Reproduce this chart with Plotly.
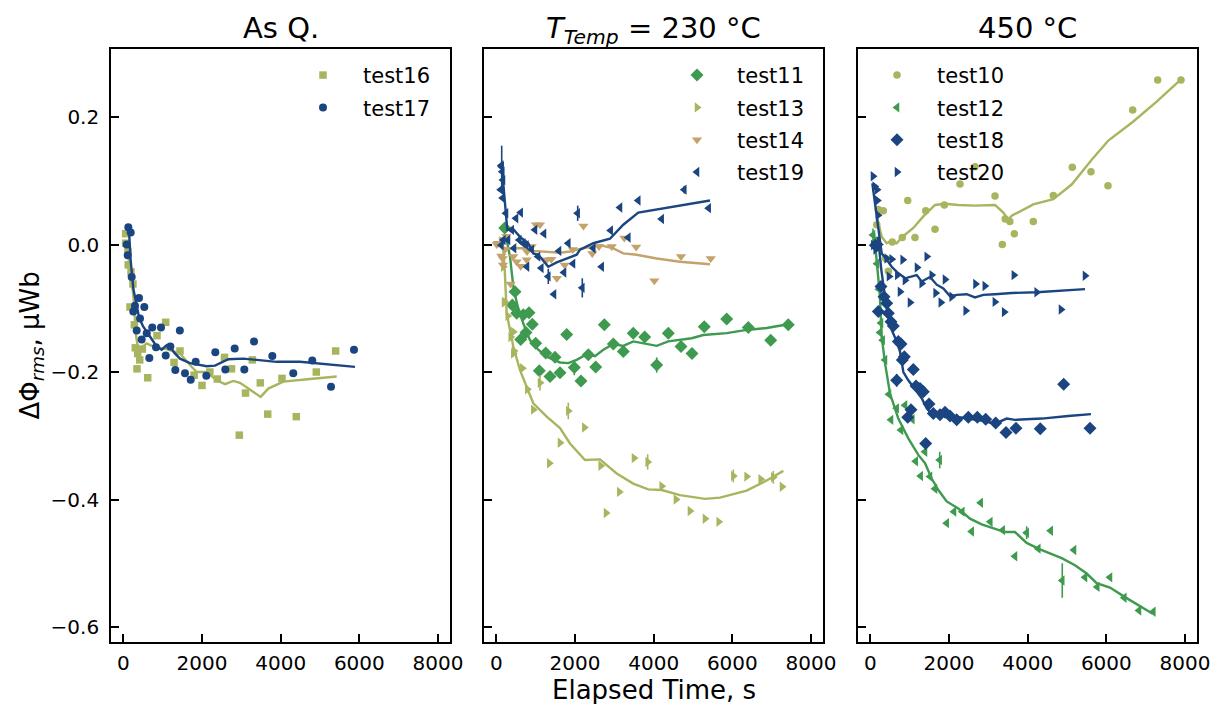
import plotly.graph_objects as go

# ---------------- Panel 1: As Q. ----------------
t16_x = [60, 60, 119, 125, 170, 196, 245, 280, 305, 348, 366, 417, 483, 620, 857, 1078, 1289, 1441, 1800, 2000,
         2200, 2390, 2573, 2750, 2949, 3106, 3280, 3483, 3671, 4034, 4398, 4906, 5398]
t16_y = [0.017, 0.002, -0.011, -0.032, -0.098, -0.043, -0.062, -0.126, -0.162, -0.195, -0.171, -0.181, -0.164,
         -0.209, -0.143, -0.122, -0.185, -0.167, -0.205, -0.221, -0.200, -0.211, -0.177, -0.195, -0.299, -0.233,
         -0.181, -0.217, -0.266, -0.210, -0.270, -0.200, -0.167]
t16_fit_x = [93, 150, 213, 272, 315, 366, 424, 493, 595, 763, 1103, 1441, 1695, 1865, 2120, 2374, 2586, 2796,
             2966, 3220, 3492, 3686, 4067, 4746, 5424]
t16_fit_y = [0.005, -0.030, -0.056, -0.092, -0.139, -0.160, -0.168, -0.160, -0.155, -0.160, -0.164, -0.171,
             -0.189, -0.200, -0.200, -0.213, -0.219, -0.214, -0.217, -0.228, -0.239, -0.226, -0.215, -0.211, -0.207]

t17_x = [86, 112, 127, 188, 213, 254, 297, 340, 399, 424, 467, 534, 595, 661, 735, 831, 958, 1078, 1195, 1322,
         1437, 1568, 1713, 1840, 2110, 2339, 2593, 2832, 3076, 3323, 3788, 4321, 4804, 5280, 5864]
t17_y = [0.000, -0.017, 0.027, 0.019, -0.051, -0.105, -0.096, -0.135, -0.084, -0.116, -0.149, -0.098, -0.139,
         -0.178, -0.130, -0.161, -0.130, -0.174, -0.160, -0.197, -0.135, -0.202, -0.212, -0.184, -0.206, -0.169,
         -0.196, -0.163, -0.196, -0.152, -0.175, -0.202, -0.182, -0.223, -0.165]
t17_fit_x = [140, 180, 254, 330, 407, 500, 595, 700, 849, 976, 1103, 1187, 1300, 1441, 1695, 2120, 2331, 2669,
             3050, 3391, 3899, 4492, 5338, 5890]
t17_fit_y = [0.028, -0.020, -0.069, -0.095, -0.116, -0.128, -0.137, -0.148, -0.160, -0.165, -0.158, -0.160,
             -0.170, -0.179, -0.186, -0.191, -0.190, -0.180, -0.179, -0.181, -0.184, -0.184, -0.189, -0.192]

# ---------------- Panel 2: T_Temp = 230 °C ----------------
t11_x = [214, 407, 475, 518, 620, 686, 755, 831, 915, 1001, 1093, 1256, 1365, 1492, 1619, 1789, 1983, 2153,
         2339, 2527, 2745, 2975, 3228, 3482, 3772, 4077, 4372, 4695, 4975, 5287, 5857, 6406, 6975, 7422]
t11_y = [0.026, -0.095, -0.074, -0.108, -0.149, -0.110, -0.138, -0.107, -0.125, -0.155, -0.198, -0.170, -0.207,
         -0.177, -0.201, -0.141, -0.193, -0.214, -0.173, -0.192, -0.126, -0.156, -0.168, -0.139, -0.145, -0.189,
         -0.139, -0.160, -0.171, -0.129, -0.117, -0.130, -0.150, -0.126]
t11_err = [0.003, 0.003, 0.003, 0.003, 0.003, 0.003, 0.003, 0.003, 0.003, 0.003, 0.003, 0.003, 0.003, 0.003,
           0.003, 0.003, 0.012, 0.003, 0.003, 0.003, 0.003, 0.003, 0.003, 0.003, 0.003, 0.012, 0.003, 0.003,
           0.003, 0.003, 0.003, 0.003, 0.003, 0.003]
t11_fit_x = [263, 348, 432, 534, 686, 856, 1068, 1281, 1619, 1830, 2043, 2297, 2508, 2720, 2975, 3228, 3482,
             3736, 4077, 4372, 4966, 5262, 5857, 6364, 6873, 7422]
t11_fit_y = [0.007, -0.019, -0.066, -0.095, -0.124, -0.150, -0.165, -0.176, -0.185, -0.186, -0.181, -0.172,
             -0.175, -0.165, -0.156, -0.159, -0.152, -0.155, -0.159, -0.152, -0.147, -0.142, -0.139, -0.134,
             -0.131, -0.125]

t13_x = [137, 178, 195, 214, 290, 366, 432, 432, 450, 661, 788, 940, 1111, 1347, 1619, 1830, 2237, 2654, 2789,
         3127, 3500, 3848, 4204, 4567, 4923, 5305, 5653, 6025, 6364, 6721, 7041, 7262]
t13_y = [0.005, -0.035, -0.091, -0.090, -0.112, -0.145, -0.137, -0.171, -0.167, -0.194, -0.227, -0.259, -0.217,
         -0.343, -0.311, -0.261, -0.287, -0.347, -0.421, -0.388, -0.335, -0.341, -0.379, -0.400, -0.418, -0.430,
         -0.435, -0.363, -0.364, -0.368, -0.365, -0.380]
t13_err = [0.003, 0.003, 0.003, 0.003, 0.003, 0.003, 0.003, 0.003, 0.003, 0.003, 0.003, 0.003, 0.012, 0.003,
           0.003, 0.013, 0.003, 0.003, 0.003, 0.003, 0.003, 0.012, 0.003, 0.003, 0.003, 0.003, 0.003, 0.010,
           0.003, 0.003, 0.010, 0.003]
t13_fit_x = [163, 214, 264, 432, 602, 772, 940, 1281, 1619, 1873, 2254, 2636, 3060, 3482, 3863, 4204, 4669,
             5305, 5686, 6364, 6873, 7296]
t13_fit_y = [0.002, -0.040, -0.108, -0.160, -0.197, -0.223, -0.249, -0.270, -0.288, -0.312, -0.338, -0.337,
             -0.359, -0.375, -0.384, -0.385, -0.393, -0.399, -0.397, -0.386, -0.370, -0.355]

t14_x = [10, 43, 127, 163, 170, 178, 220, 254, 364, 432, 518, 620, 772, 780, 900, 1009, 1111, 1281, 1398, 1540,
         1738, 1945, 2216, 2440, 2610, 2933, 3254, 3555, 4017, 4695, 5450]
t14_y = [0.000, 0.002, -0.018, -0.022, -0.032, 0.007, -0.008, 0.013, -0.062, -0.019, -0.027, -0.034, -0.024,
         -0.011, -0.003, 0.031, 0.031, -0.024, -0.023, -0.053, -0.032, -0.008, 0.029, -0.014, -0.003, -0.003,
         0.010, -0.004, -0.057, -0.019, -0.022]
t14_fit_x = [10, 263, 432, 686, 940, 1281, 1619, 1873, 2128, 2466, 2636, 2975, 3228, 3569, 4077, 4669, 5432]
t14_fit_y = [0.000, -0.007, -0.006, -0.006, -0.010, -0.011, -0.013, -0.011, -0.007, -0.003, -0.001, -0.006,
             -0.014, -0.016, -0.022, -0.027, -0.031]

t19_x = [127, 137, 153, 112, 170, 163, 178, 127, 247, 297, 391, 450, 501, 585, 620, 686, 763, 780, 900, 984,
         1060, 1144, 1212, 1322, 1467, 1594, 1721, 1830, 1950, 2069, 2186, 2466, 2679, 2908, 3144, 3355, 3609,
         4204, 4779, 5399]
t19_y = [0.124, 0.122, 0.114, 0.086, 0.101, 0.073, 0.007, -0.001, 0.049, 0.007, 0.023, -0.006, 0.041, 0.007,
         0.050, 0.002, -0.001, -0.035, -0.008, 0.023, -0.019, -0.037, 0.017, -0.050, -0.078, -0.010, -0.044,
         0.002, -0.030, 0.049, -0.068, -0.006, -0.035, 0.022, 0.058, 0.011, 0.069, 0.040, 0.086, 0.057]
t19_err = [0.003, 0.033, 0.003, 0.003, 0.003, 0.003, 0.003, 0.003, 0.003, 0.003, 0.003, 0.003, 0.003, 0.003,
           0.003, 0.003, 0.003, 0.003, 0.003, 0.003, 0.003, 0.003, 0.003, 0.012, 0.003, 0.003, 0.003, 0.003,
           0.003, 0.012, 0.015, 0.003, 0.003, 0.003, 0.003, 0.003, 0.003, 0.003, 0.006, 0.003]
t19_fit_x = [150, 220, 279, 432, 602, 814, 940, 1068, 1322, 1535, 1789, 2043, 2128, 2466, 2890, 3228, 3609,
             3990, 4669, 5432]
t19_fit_y = [0.115, 0.060, 0.023, 0.024, 0.012, 0.002, -0.014, -0.016, -0.035, -0.028, -0.022, -0.016, -0.008,
             0.002, 0.009, 0.031, 0.050, 0.054, 0.061, 0.069]

# ---------------- Panel 3: 450 °C ----------------
t10_x = [163, 203, 330, 391, 458, 559, 813, 951, 1136, 1408, 1645, 1881, 2280, 2661, 3170, 3356, 3429, 3547,
         3662, 4143, 4652, 5135, 5610, 6042, 6670, 7306, 7898]
t10_y = [0.031, 0.055, 0.053, -0.022, -0.042, 0.004, 0.011, 0.069, 0.011, 0.053, 0.024, 0.062, 0.095, 0.122,
         0.076, 0.000, 0.040, 0.036, 0.017, 0.036, 0.077, 0.121, 0.114, 0.092, 0.211, 0.258, 0.258]
t10_fit_x = [163, 290, 417, 544, 671, 798, 1093, 1347, 1645, 1899, 2237, 2661, 3170, 3381, 3508, 3594, 4143,
             4652, 5119, 5628, 6051, 6686, 7280, 7898]
t10_fit_y = [0.045, 0.012, 0.002, 0.006, 0.002, 0.011, 0.026, 0.044, 0.062, 0.064, 0.062, 0.061, 0.062, 0.050,
             0.039, 0.045, 0.063, 0.071, 0.094, 0.133, 0.163, 0.193, 0.224, 0.259]

t12_x = [68, 119, 170, 220, 247, 272, 315, 374, 475, 526, 671, 780, 882, 1068, 1154, 1281, 1391, 1517, 1645,
         1764, 1942, 2128, 2339, 2577, 2806, 3050, 3365, 3678, 3975, 4271, 4585, 4880, 5178, 5458, 5770, 6093,
         6457, 6831, 7194]
t12_y = [0.015, 0.005, -0.030, -0.070, -0.138, -0.123, -0.150, -0.181, -0.235, -0.275, -0.257, -0.291, -0.252,
         -0.274, -0.340, -0.363, -0.325, -0.364, -0.383, -0.338, -0.437, -0.419, -0.419, -0.450, -0.405, -0.435,
         -0.448, -0.489, -0.452, -0.477, -0.449, -0.527, -0.479, -0.522, -0.537, -0.522, -0.554, -0.574, -0.576]
t12_err = [0.010, 0.003, 0.003, 0.003, 0.003, 0.003, 0.003, 0.003, 0.003, 0.003, 0.003, 0.003, 0.003, 0.003,
           0.003, 0.003, 0.003, 0.003, 0.003, 0.013, 0.003, 0.003, 0.003, 0.003, 0.003, 0.003, 0.003, 0.003,
           0.010, 0.003, 0.003, 0.027, 0.003, 0.003, 0.003, 0.003, 0.003, 0.003, 0.003]
t12_fit_x = [94, 239, 290, 374, 501, 712, 966, 1220, 1391, 1561, 1729, 1942, 2237, 2534, 2830, 3170, 3424,
             3678, 3975, 4314, 4865, 5203, 5500, 5754, 6093, 6474, 6813, 7178]
t12_fit_y = [0.018, -0.076, -0.145, -0.186, -0.234, -0.273, -0.304, -0.330, -0.343, -0.367, -0.385, -0.403,
             -0.414, -0.430, -0.439, -0.446, -0.451, -0.451, -0.468, -0.478, -0.492, -0.503, -0.516, -0.531,
             -0.538, -0.553, -0.566, -0.579]

t18_x = [127, 203, 272, 348, 417, 458, 526, 585, 671, 712, 780, 813, 864, 951, 1035, 1093, 1162, 1263, 1347,
         1408, 1492, 1602, 1771, 1899, 2026, 2195, 2491, 2720, 2933, 3187, 3449, 3703, 4321, 4916, 5585]
t18_y = [-0.001, -0.105, -0.066, -0.082, -0.092, -0.108, -0.121, -0.128, -0.213, -0.152, -0.156, -0.181, -0.176,
         -0.271, -0.259, -0.196, -0.222, -0.226, -0.231, -0.312, -0.250, -0.265, -0.267, -0.263, -0.269, -0.275,
         -0.271, -0.271, -0.274, -0.280, -0.295, -0.288, -0.289, -0.219, -0.288]
t18_err = [0.003, 0.003, 0.003, 0.003, 0.003, 0.003, 0.003, 0.003, 0.010, 0.003, 0.003, 0.003, 0.003, 0.003,
           0.003, 0.003, 0.003, 0.003, 0.003, 0.003, 0.003, 0.003, 0.003, 0.003, 0.003, 0.003, 0.003, 0.003,
           0.003, 0.003, 0.003, 0.003, 0.003, 0.003, 0.003]
t18_fit_x = [196, 280, 407, 493, 544, 671, 755, 840, 966, 1136, 1306, 1434, 1561, 1815, 2069, 2491, 2830, 3170,
             3467, 3678, 4357, 5033, 5610]
t18_fit_y = [0.012, -0.040, -0.097, -0.116, -0.134, -0.152, -0.168, -0.200, -0.213, -0.227, -0.241, -0.257,
             -0.266, -0.267, -0.269, -0.273, -0.276, -0.281, -0.273, -0.275, -0.273, -0.269, -0.266]

t20_x = [68, 112, 170, 178, 196, 76, 137, 230, 417, 475, 544, 686, 755, 823, 882, 1009, 1187, 1306, 1434, 1561,
         1661, 1793, 1899, 2069, 2424, 2674, 2911, 3166, 3403, 3649, 4230, 4848, 5458]
t20_y = [0.107, 0.091, 0.086, 0.069, 0.046, -0.001, -0.008, 0.000, -0.022, -0.050, -0.023, -0.048, -0.074,
         -0.024, -0.056, -0.091, -0.036, -0.061, -0.019, -0.048, -0.076, -0.091, -0.055, -0.082, -0.104, -0.062,
         -0.065, -0.090, -0.106, -0.048, -0.075, -0.102, -0.049]
t20_fit_x = [51, 247, 290, 417, 544, 671, 882, 1179, 1306, 1518, 1688, 1856, 2026, 2195, 2450, 2661, 2873,
             3170, 3594, 4230, 4865, 5458]
t20_fit_y = [0.096, 0.010, -0.014, -0.024, -0.035, -0.043, -0.053, -0.048, -0.058, -0.051, -0.063, -0.069,
             -0.081, -0.079, -0.078, -0.083, -0.079, -0.078, -0.076, -0.075, -0.072, -0.070]

titles = ["As Q.", "<i>T</i><sub><i>Temp</i></sub> = 230 °C", "450 °C"]
x_ticks = [0, 2000, 4000, 6000, 8000]
y_ticks = [-0.6, -0.4, -0.2, 0.0, 0.2]

OLIVE = "rgb(168,181,94)"
BLUE = "rgb(27,69,128)"
GREEN = "rgb(62,154,78)"
TAN = "rgb(196,162,108)"

fig = go.Figure()


def add_series(x, y, fx, fy, name, color, symbol, size, panel, legend, err=None):
    xa = "x" if panel == 1 else f"x{panel}"
    ya = "y" if panel == 1 else f"y{panel}"
    fig.add_trace(go.Scatter(x=fx, y=fy, mode="lines", line=dict(color=color, width=2.4),
                             xaxis=xa, yaxis=ya, showlegend=False, hoverinfo="skip"))
    eb = None
    if err is not None:
        eb = dict(type="data", array=err, visible=True, color=color, thickness=1.6, width=0)
    fig.add_trace(go.Scatter(x=x, y=y, mode="markers", name=name, error_y=eb,
                             marker=dict(color=color, symbol=symbol, size=size, line=dict(width=0)),
                             xaxis=xa, yaxis=ya, legend=legend, legendgroup=name))


add_series(t16_x, t16_y, t16_fit_x, t16_fit_y, "test16", OLIVE, "square", 7.5, 1, "legend")
add_series(t17_x, t17_y, t17_fit_x, t17_fit_y, "test17", BLUE, "circle", 8, 1, "legend")
add_series(t11_x, t11_y, t11_fit_x, t11_fit_y, "test11", GREEN, "diamond", 10, 2, "legend2", t11_err)
add_series(t13_x, t13_y, t13_fit_x, t13_fit_y, "test13", OLIVE, "triangle-right", 9, 2, "legend2", t13_err)
add_series(t14_x, t14_y, t14_fit_x, t14_fit_y, "test14", TAN, "triangle-down", 9, 2, "legend2")
add_series(t19_x, t19_y, t19_fit_x, t19_fit_y, "test19", BLUE, "triangle-left", 9, 2, "legend2", t19_err)
add_series(t10_x, t10_y, t10_fit_x, t10_fit_y, "test10", OLIVE, "circle", 7.5, 3, "legend3")
add_series(t12_x, t12_y, t12_fit_x, t12_fit_y, "test12", GREEN, "triangle-left", 9, 3, "legend3", t12_err)
add_series(t18_x, t18_y, t18_fit_x, t18_fit_y, "test18", BLUE, "diamond", 10, 3, "legend3", t18_err)
add_series(t20_x, t20_y, t20_fit_x, t20_fit_y, "test20", BLUE, "triangle-right", 9, 3, "legend3")

# screen-pixel layout (page body adds an 8 px offset)
OFF = 8
SL, SR, ST, SB = 111, 1197, 49, 642          # plot area on screen
W, H = 1204, 696
L, T = SL - OFF, ST - OFF
R = W - (SR - OFF)
B = H - (SB - OFF)
pw = SR - SL
panels_px = [(111, 450), (484, 823), (858, 1197)]
doms = [[(a - SL) / pw, (b - SL) / pw] for a, b in panels_px]

axis_common = dict(showline=True, linecolor="black", linewidth=1.6, mirror=True, ticks="inside",
                   ticklen=8, tickwidth=1.6, tickcolor="black", showgrid=False, zeroline=False,
                   automargin=False, tickfont=dict(size=20, color="black"))
xr = [-313, 8305]
yr = [-0.6234, 0.3066]
for i in range(3):
    sfx = "" if i == 0 else str(i + 1)
    fig.layout["xaxis" + sfx] = dict(domain=doms[i], range=xr, tickvals=x_ticks, tickformat="d",
                                     anchor="y" + sfx, ticklabelstandoff=2, **axis_common)
    fig.layout["yaxis" + sfx] = dict(domain=[0, 1], range=yr, tickvals=y_ticks, tickformat=".1f",
                                     anchor="x" + sfx, showticklabels=(i == 0), ticklabelstandoff=6,
                                     **axis_common)

for i, t in enumerate(titles):
    a, b = panels_px[i]
    fig.add_annotation(text=t, x=((a + b) / 2 - SL) / pw, y=1, xref="paper", yref="paper",
                       xanchor="center", yanchor="top", yshift=T - 1, showarrow=False,
                       font=dict(size=29, color="black"))

fig.add_annotation(text="Elapsed Time, s", x=(653.5 - SL) / pw, y=0, xref="paper", yref="paper",
                   xanchor="center", yanchor="top", yshift=-31, showarrow=False,
                   font=dict(size=26, color="black"))
fig.add_annotation(text="ΔΦ<sub><i>rms</i></sub>, μWb", x=0, y=0.5, xref="paper", yref="paper",
                   xanchor="center", yanchor="middle", xshift=-80, textangle=-90, showarrow=False,
                   font=dict(size=26, color="black"))

leg_common = dict(xanchor="left", yanchor="top", bgcolor="rgba(0,0,0,0)", borderwidth=0,
                  font=dict(size=21, color="black"), itemwidth=70, tracegroupgap=2,
                  traceorder="grouped")
fig.update_layout(
    width=W, height=H, margin=dict(l=L, r=R, t=T, b=B, autoexpand=False),
    paper_bgcolor="white", plot_bgcolor="white",
    font=dict(family="DejaVu Sans", color="black"),
    legend=dict(x=(283 - SL) / pw, y=0.99, **leg_common),
    legend2=dict(x=(657 - SL) / pw, y=0.99, **leg_common),
    legend3=dict(x=(857 - SL) / pw, y=0.99, **leg_common),
)

fig.write_html("out.html")
